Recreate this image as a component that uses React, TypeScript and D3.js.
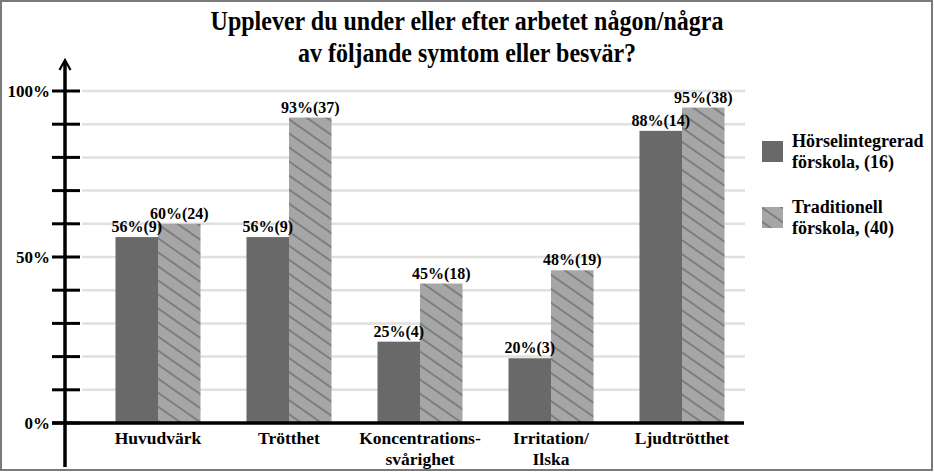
import React from "react";
import * as d3 from "d3";

const categories: string[][] = [
  ["Huvudvärk"],
  ["Trötthet"],
  ["Koncentrations-", "svårighet"],
  ["Irritation/", "Ilska"],
  ["Ljudtrötthet"],
];
const seriesNames: string[][] = [
  ["Hörselintegrerad", "förskola, (16)"],
  ["Traditionell", "förskola, (40)"],
];
const hoerselValues = [56, 56, 24.5, 19.5, 88];
const traditionellValues = [60, 92, 42, 46, 95];
const hoerselLabels = ["56%(9)", "56%(9)", "25%(4)", "20%(3)", "88%(14)"];
const traditionellLabels = ["60%(24)", "93%(37)", "45%(18)", "48%(19)", "95%(38)"];
const yTicks = [0, 10, 20, 30, 40, 50, 60, 70, 80, 90, 100];
const yTickLabels: Record<number, string> = { 0: "0%", 50: "50%", 100: "100%" };
const titleLines = [
  "Upplever du under eller efter arbetet någon/några",
  "av följande symtom eller besvär?",
];

const W = 934;
const H = 472;
const FONT = "'Liberation Serif', 'Times New Roman', serif";
const DARK = "#696969";
const LIGHT = "#a6a6a6";

export default function App() {
  const y = d3.scaleLinear().domain([0, 100]).range([423, 91]);
  const x0 = d3
    .scaleBand<number>()
    .domain(d3.range(categories.length))
    .range([92.5, 747.5])
    .paddingInner(0.351)
    .paddingOuter(0.1755);
  const x1 = d3.scaleBand<number>().domain([0, 1]).range([0, x0.bandwidth()]);
  const series = [
    { values: hoerselValues, labels: hoerselLabels, fill: DARK },
    { values: traditionellValues, labels: traditionellLabels, fill: "url(#hatch)" },
  ];
  const axisX = 65;

  return (
    <svg
      width={W}
      height={H}
      style={{ position: "absolute", left: 0, top: 0, background: "#fff" }}
      fontFamily={FONT}
      fontWeight="bold"
    >
      <defs>
        <pattern
          id="hatch"
          patternUnits="userSpaceOnUse"
          width={11.5}
          height={11.5}
          patternTransform="rotate(35)"
        >
          <rect width={11.5} height={11.5} fill={LIGHT} />
          <line x1={0} x2={11.5} y1={1} y2={1} stroke="#7a7a7a" strokeWidth={1.8} />
        </pattern>
      </defs>
      <rect x={0} y={0} width={W} height={H} fill="#fff" />
      <rect x={1} y={1} width={931} height={469} fill="none" stroke="#7a7a7a" strokeWidth={2} />

      {titleLines.map((t, i) => (
        <g key={i} transform={`translate(467, ${30 + i * 32}) scale(1, 1.15)`}>
          <text x={0} y={0} textAnchor="middle" fontSize={24} fill="#000">
            {t}
          </text>
        </g>
      ))}

      {/* gridlines */}
      {yTicks
        .filter((t) => t > 0)
        .map((t) => (
          <line key={t} x1={82} x2={745} y1={y(t)} y2={y(t)} stroke="#e0e0e0" strokeWidth={2.5} />
        ))}

      {/* bars */}
      {categories.map((_, ci) =>
        series.map((s, si) => (
          <rect
            key={`${ci}-${si}`}
            x={(x0(ci) ?? 0) + (x1(si) ?? 0)}
            width={x1.bandwidth()}
            y={y(s.values[ci])}
            height={y(0) - y(s.values[ci])}
            fill={s.fill}
          />
        ))
      )}

      {/* bar labels */}
      {categories.map((_, ci) =>
        series.map((s, si) => (
          <text
            key={`l${ci}-${si}`}
            x={(x0(ci) ?? 0) + (x1(si) ?? 0) + x1.bandwidth() / 2}
            y={y(s.values[ci]) - 5}
            textAnchor="middle"
            fontSize={16}
            fill="#000"
          >
            {s.labels[ci]}
          </text>
        ))
      )}

      {/* y axis */}
      <line x1={axisX} x2={axisX} y1={467} y2={61} stroke="#000" strokeWidth={3.5} />
      <path
        d={`M${axisX - 5.5},${70} L${axisX},${60} L${axisX + 5.5},${70}`}
        fill="none"
        stroke="#000"
        strokeWidth={2.2}
      />
      {yTicks.map((t) => (
        <line key={`t${t}`} x1={52} x2={80} y1={y(t)} y2={y(t)} stroke="#000" strokeWidth={3} />
      ))}
      {yTicks
        .filter((t) => yTickLabels[t] !== undefined)
        .map((t) => (
          <text key={`yl${t}`} x={50} y={y(t) + 6} textAnchor="end" fontSize={17} fill="#000">
            {yTickLabels[t]}
          </text>
        ))}

      {/* x axis */}
      <line x1={52} x2={744} y1={y(0)} y2={y(0)} stroke="#000" strokeWidth={3.5} />
      {categories.map((lines, ci) => (
        <text
          key={`xl${ci}`}
          x={(x0(ci) ?? 0) + x0.bandwidth() / 2}
          textAnchor="middle"
          fontSize={17.5}
          fill="#000"
        >
          {lines.map((l, li) => (
            <tspan key={li} x={(x0(ci) ?? 0) + x0.bandwidth() / 2} y={444 + li * 21}>
              {l}
            </tspan>
          ))}
        </text>
      ))}

      {/* legend */}
      {seriesNames.map((lines, i) => (
        <g key={`lg${i}`} transform={`translate(0, ${i * 66})`}>
          <rect x={762} y={141} width={21} height={21} fill={i === 0 ? DARK : "url(#hatch)"} />
          <text fontSize={18} fill="#000">
            {lines.map((l, li) => (
              <tspan key={li} x={792} y={147 + li * 21}>
                {l}
              </tspan>
            ))}
          </text>
        </g>
      ))}
    </svg>
  );
}
